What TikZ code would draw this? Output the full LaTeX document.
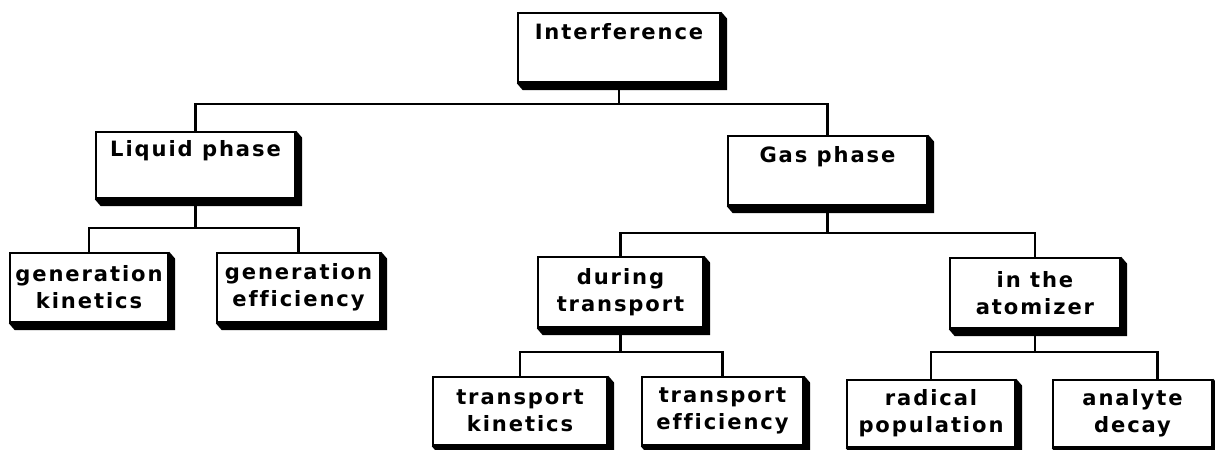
\documentclass[tikz,border=0pt]{standalone}
\usepackage{fontspec}
\setmainfont{DejaVu Sans}[LetterSpace=9,Ligatures={NoCommon}]
\usetikzlibrary{positioning}

\begin{document}
\begin{tikzpicture}[x=0.02cm,y=-0.02cm,line width=1.4pt,
    box/.style={draw,fill=white,align=center,inner sep=0pt,
        font=\fontsize{12}{15.5}\selectfont\bfseries}]
    \useasboundingbox (0,0) rectangle (1215,450);
    % top level
    \node[box,minimum width=4.04cm,minimum height=1.38cm] (interf) at (619,47.5) {Interference\\[3pt]\mbox{}};
    % phases
    \node[box,minimum width=3.98cm,minimum height=1.32cm] (liquid) at (195.5,165) {Liquid phase\\[3pt]\mbox{}};
    \node[box,minimum width=3.98cm,minimum height=1.38cm] (gas) at (827.5,170.5) {Gas phase\\[3pt]\mbox{}};
    % liquid phase branch
    \node[box,minimum width=3.16cm,minimum height=1.38cm] (genkin) at (89,287.5) {generation\\kinetics};
    \node[box,minimum width=3.26cm,minimum height=1.38cm] (geneff) at (298.5,287.5) {generation\\efficiency};
    % gas phase branch
    \node[box,minimum width=3.30cm,minimum height=1.40cm] (during) at (620.5,292) {during\\transport};
    \node[box,minimum width=3.40cm,minimum height=1.40cm] (atom) at (1035,293) {in the\\atomizer};
    \node[box,minimum width=3.48cm,minimum height=1.36cm] (trkin) at (520,411) {transport\\kinetics};
    \node[box,minimum width=3.22cm,minimum height=1.36cm] (treff) at (722.5,411) {transport\\efficiency};
    \node[box,minimum width=3.36cm,minimum height=1.34cm] (radical) at (931,413.5) {radical\\population};
    \node[box,minimum width=3.18cm,minimum height=1.34cm] (decay) at (1132.5,413.5) {analyte\\decay};
    % shadows
    \foreach \n in {interf,liquid,gas,genkin,geneff,during,atom,trkin,treff,radical,decay}
        \fill (\n.north east) -- ([shift={(6,7)}]\n.north east) -- ([shift={(6,7)}]\n.south east)
            -- ([shift={(6,7)}]\n.south west) -- (\n.south west) -- (\n.south east) -- cycle;
    % connectors
    \coordinate (b1) at (619,104);
    \draw (interf.south) -- (b1) -| (liquid.north);
    \draw (b1) -| (gas.north);
    \coordinate (b2) at (195.5,228);
    \draw (liquid.south) -- (b2) -| (genkin.north);
    \draw (b2) -| (geneff.north);
    \coordinate (b3) at (827.5,233);
    \draw (gas.south) -- (b3) -| (during.north);
    \draw (b3) -| (atom.north);
    \coordinate (b4) at (620.5,352);
    \draw (during.south) -- (b4) -| (trkin.north);
    \draw (b4) -| (treff.north);
    \coordinate (b5) at (1035,352);
    \draw (atom.south) -- (b5) -| (radical.north);
    \draw (b5) -| ([xshift=0.5cm]decay.north);
\end{tikzpicture}
\end{document}
